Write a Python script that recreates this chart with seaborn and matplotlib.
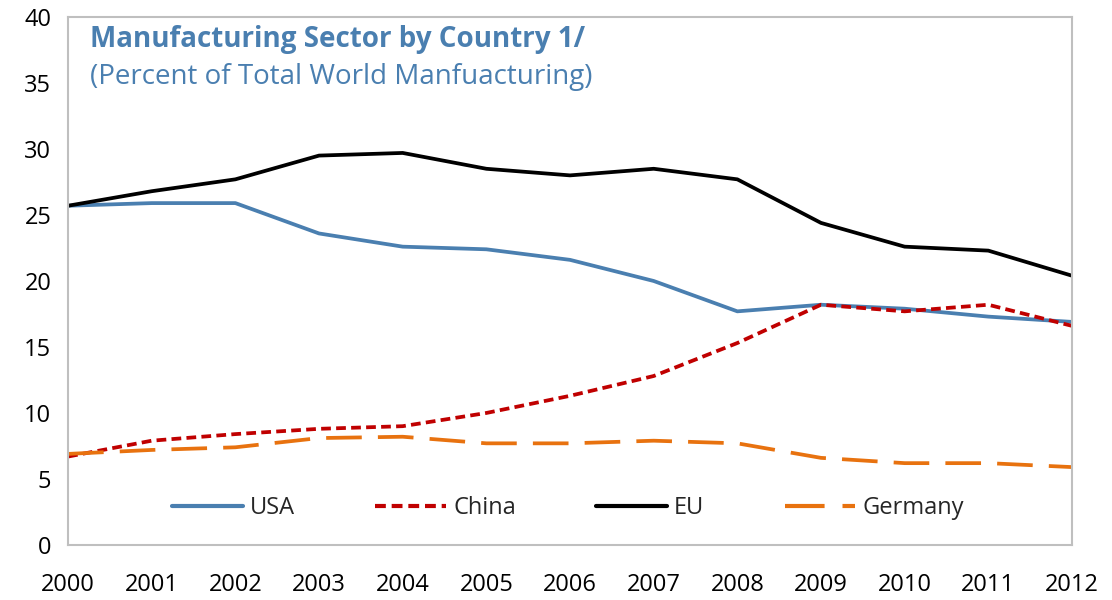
import matplotlib
matplotlib.use("Agg")
import matplotlib.pyplot as plt
import seaborn as sns
import pandas as pd

years = list(range(2000, 2013))
usa = [25.7, 25.9, 25.9, 23.6, 22.6, 22.4, 21.6, 20.0, 17.7, 18.2, 17.9, 17.3, 16.9]
china = [6.7, 7.9, 8.4, 8.8, 9.0, 10.0, 11.3, 12.8, 15.3, 18.2, 17.7, 18.2, 16.6]
eu = [25.7, 26.8, 27.7, 29.5, 29.7, 28.5, 28.0, 28.5, 27.7, 24.4, 22.6, 22.3, 20.4]
germany = [6.9, 7.2, 7.4, 8.1, 8.2, 7.7, 7.7, 7.9, 7.7, 6.6, 6.2, 6.2, 5.9]
series_names = ["USA", "China", "EU", "Germany"]
title = "Manufacturing Sector by Country 1/"
subtitle = "(Percent of Total World Manfuacturing)"

df = pd.concat([
    pd.DataFrame({"year": years, "value": vals, "series": name})
    for name, vals in zip(series_names, [usa, china, eu, germany])
])

sns.set_style("white")
plt.rcParams['font.family'] = ['Open Sans', 'DejaVu Sans']

palette = {"USA": "#4a7fb0", "China": "#c00000", "EU": "#000000", "Germany": "#e8720f"}
dashes = {"USA": "", "China": (2.6, 1.4), "EU": "", "Germany": (9.5, 4.3)}

fig = plt.figure(figsize=(11.12, 6.0), dpi=100)
ax = fig.add_axes([0.0612, 0.0917, 0.9028, 0.88])

sns.lineplot(data=df, x="year", y="value", hue="series", style="series",
             hue_order=series_names, style_order=series_names,
             palette=palette, dashes=dashes, linewidth=2.7, ax=ax)

ax.set_xlim(2000, 2012)
ax.set_ylim(0, 40)
ax.set_xticks(years)
ax.set_xticklabels([str(y) for y in years])
ax.set_yticks(range(0, 41, 5))
ax.set_xlabel("")
ax.set_ylabel("")
for s in ax.spines.values():
    s.set_color("#bfbfbf")
    s.set_linewidth(1.5)
    s.set_visible(True)
ax.tick_params(axis="x", direction="in", length=8, width=1.2, color="#bfbfbf",
               pad=20, labelsize=17, labelcolor="black")
ax.tick_params(axis="y", direction="in", length=8, width=1.2, color="#bfbfbf",
               pad=12, labelsize=17, labelcolor="black")

ax.text(0.022, 0.958, title, transform=ax.transAxes, color="#4a7fb0",
        fontsize=20, fontweight="bold", va="center")
ax.text(0.022, 0.886, subtitle, transform=ax.transAxes, color="#4a7fb0",
        fontsize=20, va="center")

leg = ax.legend(loc="center", bbox_to_anchor=(0.498, 0.07), ncol=4, frameon=False,
                fontsize=17, handlelength=3.0, columnspacing=3.4, handletextpad=0.3)
for line in leg.get_lines():
    line.set_linewidth(3)

fig.savefig("out.png", dpi=100)
